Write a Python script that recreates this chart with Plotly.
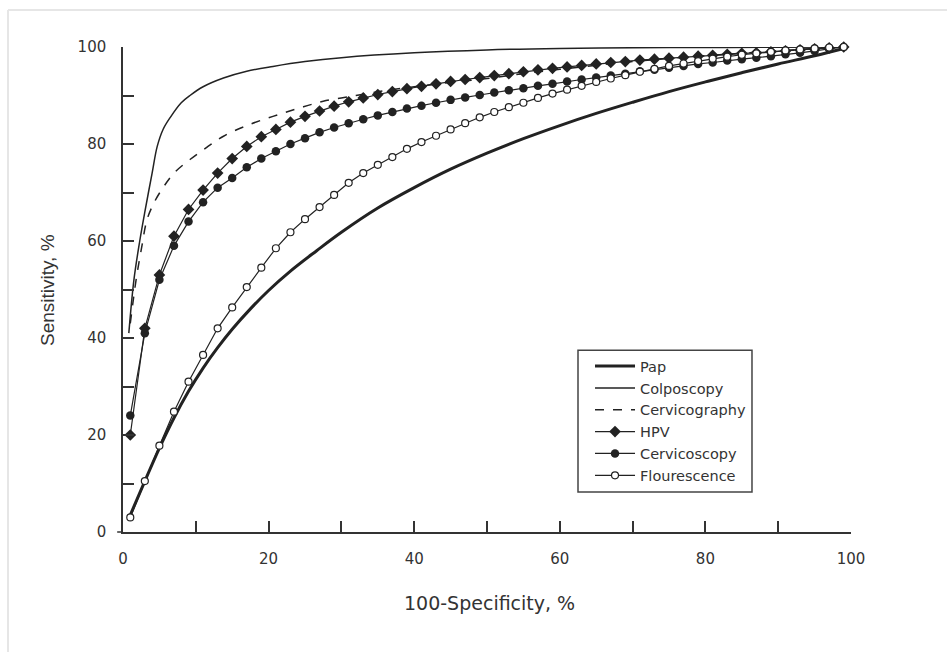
import plotly.graph_objects as go

# ---- data ----
marker_x = [1, 3, 5, 7, 9, 11, 13, 15, 17, 19, 21, 23, 25, 27, 29, 31, 33, 35, 37, 39,
            41, 43, 45, 47, 49, 51, 53, 55, 57, 59, 61, 63, 65, 67, 69, 71, 73, 75, 77, 79,
            81, 83, 85, 87, 89, 91, 93, 95, 97, 99]

hpv_y = [20, 42, 53, 61, 66.5, 70.5, 74, 77, 79.5, 81.5, 83, 84.5, 85.7, 86.8, 87.8, 88.7, 89.5, 90.2, 90.8, 91.4,
         91.9, 92.4, 92.9, 93.3, 93.7, 94.1, 94.5, 94.9, 95.3, 95.6, 95.9, 96.2, 96.5, 96.8, 97.0, 97.3, 97.5, 97.7, 97.9, 98.1,
         98.3, 98.5, 98.7, 98.8, 99.0, 99.2, 99.4, 99.6, 99.8, 100]

cervicoscopy_y = [24, 41, 52, 59, 64, 68, 71, 73, 75.2, 77, 78.5, 80, 81.2, 82.4, 83.4, 84.3, 85.1, 85.9, 86.6, 87.3,
                  87.9, 88.5, 89.1, 89.6, 90.1, 90.6, 91.1, 91.5, 92, 92.4, 92.9, 93.3, 93.7, 94.1, 94.5, 95, 95.3, 95.7, 96.1, 96.5,
                  96.8, 97.2, 97.5, 97.8, 98.1, 98.5, 98.8, 99.2, 99.6, 100]

flourescence_y = [3, 10.5, 17.8, 24.8, 31, 36.5, 42, 46.3, 50.5, 54.5, 58.5, 61.8, 64.5, 67, 69.5, 72, 74, 75.7, 77.3, 79,
                  80.4, 81.7, 83, 84.3, 85.5, 86.6, 87.6, 88.5, 89.5, 90.4, 91.2, 92, 92.8, 93.5, 94.2, 94.9, 95.5, 96.1, 96.6, 97.1,
                  97.6, 98, 98.4, 98.7, 99, 99.3, 99.5, 99.7, 99.9, 100]

pap_x = [1, 3, 5, 7, 9, 11, 13, 15, 17.5, 20, 23, 26.6, 30, 35, 40, 45, 50, 55, 60, 65, 70, 75, 80, 85, 90, 95, 99]
pap_y = [3.5, 10.5, 17.3, 23.5, 29, 33.8, 38, 41.8, 46, 49.8, 53.8, 58, 61.8, 66.8, 71, 74.8, 78.1, 81.1, 83.8, 86.3,
         88.6, 90.8, 92.8, 94.7, 96.5, 98.2, 99.7]

colpo_x = [0.8, 1.5, 2.3, 3, 4, 4.7, 5.5, 6.5, 8, 9.2, 11, 13.8, 17, 20.6, 25, 30, 40, 50, 60, 70, 80, 90, 99]
colpo_y = [41, 52, 60, 66, 74, 79.5, 83, 85.5, 88.5, 90, 91.8, 93.6, 95, 96, 97, 97.8, 98.8, 99.4, 99.7, 99.85, 99.9, 99.95, 100]

cervico_x = [1, 1.8, 2.6, 3.3, 4.3, 5.5, 7, 9.2, 11.5, 13.8, 17, 20.6, 24, 27.5, 32, 36, 40, 45, 50, 55, 60, 70, 80, 90, 99]
cervico_y = [43, 52, 59, 64.4, 68, 71, 74, 76.8, 79.3, 81.6, 83.8, 85.7, 87.3, 88.8, 90, 91, 91.8, 92.7, 93.5, 94.5, 95.4, 97, 98.2, 99.2, 100]

tick_vals = [0, 10, 20, 30, 40, 50, 60, 70, 80, 90, 100]
tick_text = ["0", "", "20", "", "40", "", "60", "", "80", "", "100"]

INK = "#222222"
TXT = "#333333"
WIDE = "DejaVu Sans, Verdana, sans-serif"
NARROW = "Liberation Sans, Arial, sans-serif"

fig = go.Figure()

fig.add_trace(go.Scatter(x=pap_x, y=pap_y, mode="lines", name="Pap",
                         line=dict(color=INK, width=3, shape="spline"), cliponaxis=False))
fig.add_trace(go.Scatter(x=colpo_x, y=colpo_y, mode="lines", name="Colposcopy",
                         line=dict(color=INK, width=1.5, shape="spline"), cliponaxis=False))
fig.add_trace(go.Scatter(x=cervico_x, y=cervico_y, mode="lines", name="Cervicography",
                         line=dict(color=INK, width=1.5, dash="dash", shape="spline"), cliponaxis=False))
fig.add_trace(go.Scatter(x=marker_x, y=hpv_y, mode="lines+markers", name="HPV",
                         line=dict(color=INK, width=1.2),
                         marker=dict(symbol="diamond", size=9, color=INK), cliponaxis=False))
fig.add_trace(go.Scatter(x=marker_x, y=cervicoscopy_y, mode="lines+markers", name="Cervicoscopy",
                         line=dict(color=INK, width=1.2),
                         marker=dict(symbol="circle", size=8.5, color=INK), cliponaxis=False))
fig.add_trace(go.Scatter(x=marker_x, y=flourescence_y, mode="lines+markers", name="Flourescence",
                         line=dict(color=INK, width=1.2),
                         marker=dict(symbol="circle", size=7, color="white",
                                     line=dict(color=INK, width=1.2)), cliponaxis=False))

axis_common = dict(
    range=[0, 100], tickmode="array", tickvals=tick_vals, ticktext=tick_text,
    ticks="inside", ticklen=11, tickwidth=1.5, tickcolor=TXT,
    showline=True, linecolor=TXT, linewidth=1.5,
    showgrid=False, zeroline=False,
    tickfont=dict(family=WIDE, size=15, color=TXT),
)

fig.update_layout(
    width=947, height=652,
    margin=dict(l=123, r=96, t=47, b=120),
    paper_bgcolor="white", plot_bgcolor="white",
    font=dict(family=WIDE, color=TXT),
    xaxis=dict(**axis_common, ticklabelstandoff=12),
    yaxis=dict(**axis_common, ticklabelstandoff=12),
    legend=dict(
        x=0.6415, y=0.375, xanchor="left", yanchor="top",
        borderwidth=0, bgcolor="rgba(0,0,0,0)",
        font=dict(family=WIDE, size=14.5, color=TXT),
        itemwidth=40, tracegroupgap=0,
    ),
    showlegend=True,
    annotations=[
        dict(text="Sensitivity, %", xref="paper", yref="paper", x=-0.103, y=0.499,
             textangle=-90, showarrow=False, xanchor="center", yanchor="middle",
             font=dict(family=NARROW, size=19, color=TXT)),
        dict(text="100-Specificity, %", xref="paper", yref="paper", x=0.503, y=-0.146,
             showarrow=False, xanchor="center", yanchor="middle",
             font=dict(family=WIDE, size=19, color=TXT)),
    ],
    shapes=[
        # legend frame
        dict(type="rect", xref="paper", yref="paper", x0=0.625, x1=0.864, y0=0.0825, y1=0.375,
             line=dict(color="#444444", width=1.5), fillcolor="rgba(0,0,0,0)"),
        # x-axis overhang to the left of the y-axis
        dict(type="line", xref="paper", yref="paper", x0=-0.008, x1=0, y0=0, y1=0,
             line=dict(color=TXT, width=1.5)),
        # faint frame around the picture
        dict(type="line", xref="paper", yref="paper", x0=-0.158, x1=1.14, y0=1.0763, y1=1.0763,
             line=dict(color="#e6e6e6", width=2)),
        dict(type="line", xref="paper", yref="paper", x0=-0.158, x1=-0.158, y0=1.0763, y1=-0.26,
             line=dict(color="#e6e6e6", width=2)),
    ],
)

fig.write_html("out.html")
